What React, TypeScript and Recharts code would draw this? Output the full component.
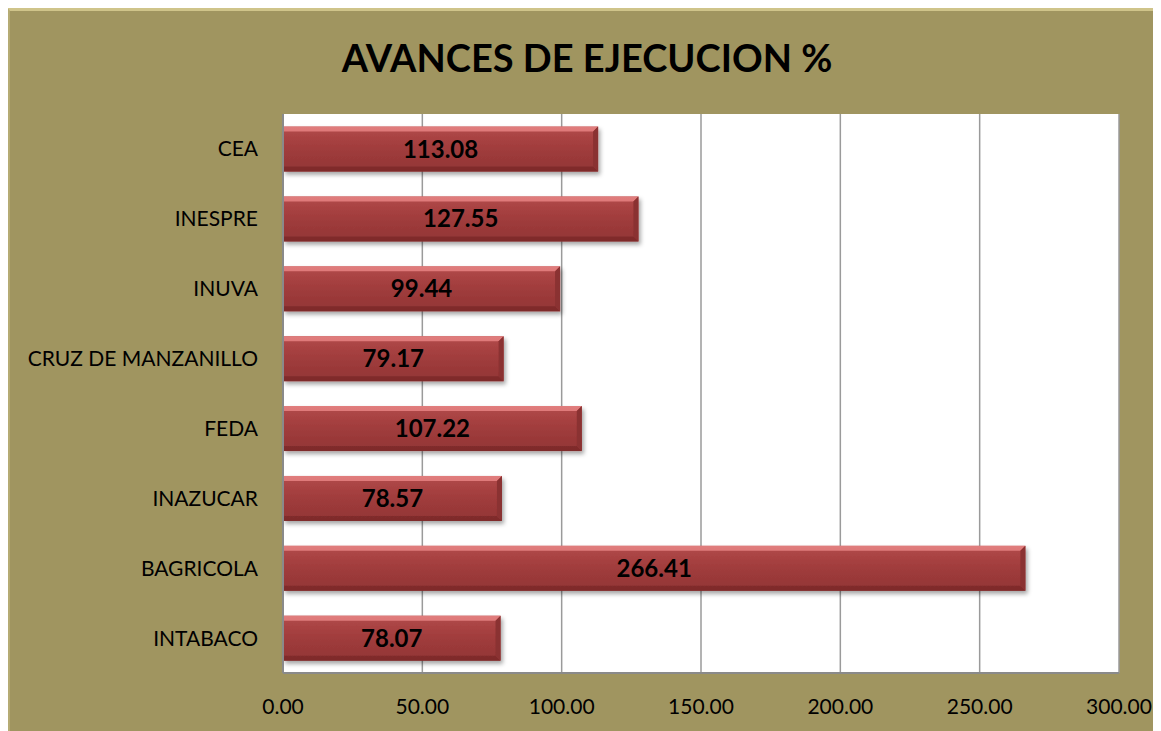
import { BarChart, Bar, XAxis, YAxis, CartesianGrid, LabelList } from "recharts";

const CATEGORIES = ["CEA", "INESPRE", "INUVA", "CRUZ DE MANZANILLO", "FEDA", "INAZUCAR", "BAGRICOLA", "INTABACO"];
const VALUES = [113.08, 127.55, 99.44, 79.17, 107.22, 78.57, 266.41, 78.07];
const X_TICKS = [0, 50, 100, 150, 200, 250, 300];

const DATA = CATEGORIES.map((name, i) => ({ name, value: VALUES[i] }));

const FONT = "Lato, 'Noto Sans', sans-serif";

function BevelBar(props: any) {
  const { x, y, width, height } = props;
  if (!width || width <= 0) return null;
  const b = 5;
  return (
    <g filter="url(#barShadow)">
      <rect x={x} y={y} width={width} height={height} fill="url(#barFill)" />
      {/* top bevel */}
      <polygon
        points={`${x},${y} ${x + width},${y} ${x + width - b},${y + b} ${x},${y + b}`}
        fill="#e88484"
        opacity={0.85}
      />
      {/* bottom bevel */}
      <polygon
        points={`${x},${y + height - b} ${x + width - b},${y + height - b} ${x + width},${y + height} ${x},${y + height}`}
        fill="#7a2a2a"
        opacity={0.8}
      />
      {/* right bevel */}
      <polygon
        points={`${x + width - b},${y + b} ${x + width},${y} ${x + width},${y + height} ${x + width - b},${y + height - b}`}
        fill="#8a3030"
      />
    </g>
  );
}

export default function App() {
  return (
    <div
      style={{
        position: "relative",
        margin: "-1px 0 0 -1px",
        width: 1154,
        height: 724,
        background: "#a09560",
        boxSizing: "border-box",
        borderTop: "4px solid #cfc48a",
        borderLeft: "3px solid #b5ab74",
        fontFamily: FONT,
      }}
    >
      <div
        style={{
          position: "absolute",
          top: 23,
          left: 0,
          width: 1154,
          textAlign: "center",
          fontSize: 38,
          fontWeight: 700,
          color: "#000",
        }}
      >
        AVANCES DE EJECUCION %
      </div>
      <BarChart
        width={1151}
        height={720}
        data={DATA}
        layout="vertical"
        margin={{ top: 103, right: 42, bottom: 8, left: 0 }}
        barCategoryGap="18%"
        style={{ position: "absolute", top: 0, left: 0 }}
      >
        <defs>
          <linearGradient id="barFill" x1="0" y1="0" x2="0" y2="1">
            <stop offset="0%" stopColor="#b24a4a" />
            <stop offset="50%" stopColor="#a03c3c" />
            <stop offset="100%" stopColor="#923535" />
          </linearGradient>
          <filter id="barShadow" x="-5%" y="-20%" width="110%" height="150%">
            <feDropShadow dx="2" dy="3" stdDeviation="2" floodColor="#000" floodOpacity="0.35" />
          </filter>
        </defs>
        <CartesianGrid horizontal={false} stroke="#9a9a9a" strokeWidth={1.5} fill="#ffffff" />
        <XAxis
          type="number"
          domain={[0, 300]}
          ticks={X_TICKS}
          tickFormatter={(v: number) => v.toFixed(2)}
          axisLine={{ stroke: "#8a8a8a", strokeWidth: 2 }}
          tickLine={false}
          tickMargin={20}
          height={50}
          tick={{ fill: "#000", fontSize: 21, fontFamily: FONT }}
          interval={0}
        />
        <YAxis
          type="category"
          dataKey="name"
          width={273}
          axisLine={{ stroke: "#8a8a8a", strokeWidth: 2 }}
          tickLine={false}
          tickMargin={19}
          tick={{ fill: "#000", fontSize: 21, fontFamily: FONT }}
          interval={0}
        />
        <Bar dataKey="value" shape={<BevelBar />} isAnimationActive={false}>
          <LabelList
            dataKey="value"
            position="center"
            formatter={(v: any) => Number(v).toFixed(2)}
            style={{ fill: "#000", fontSize: 24, fontWeight: 700, fontFamily: FONT }}
          />
        </Bar>
      </BarChart>
    </div>
  );
}
